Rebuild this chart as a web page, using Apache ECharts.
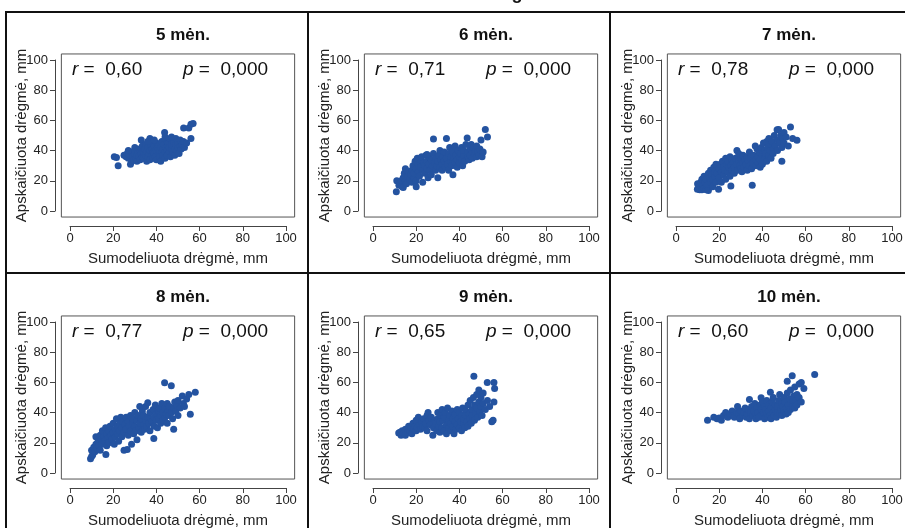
<!DOCTYPE html>
<html>
<head>
<meta charset="utf-8">
<script src="https://cdn.jsdelivr.net/npm/echarts@6/dist/echarts.min.js"></script>
<style>
  html, body { margin: 0; padding: 0; background: #fff; }
  #chart { width: 905px; height: 528px; }
</style>
</head>
<body>
<div id="chart"></div>
<script>
const titles = ["5 mėn.", "6 mėn.", "7 mėn.", "8 mėn.", "9 mėn.", "10 mėn."];
const rValues = ["0,60", "0,71", "0,78", "0,77", "0,65", "0,60"];
const pValues = ["0,000", "0,000", "0,000", "0,000", "0,000", "0,000"];
const xTitle = "Sumodeliuota drėgmė, mm";
const yTitle = "Apskaičiuota drėgmė, mm";

// [sumodeliuota, apskaičiuota]
const m5 = [[20.5,36],[21.5,35.5],[22.3,30],[25,37],[26,36],[26.5,38],[27,35],[27.5,37.5],[28,31],[28.5,33],[28.5,39],[29,36],[29.5,34],[30,38],[30,40],[30.5,35],[31,37],[31,33],[31.5,39],[32,36],[32,41],[32.5,34],[33,38],[33,47],[33.5,43],[33.5,36],[34,39],[34,35],[34.5,41],[35,37],[35,44],[35.5,33],[35.5,39],[36,42],[36,36],[36.5,38],[37,48],[37,34],[37,40],[37.5,44],[38,37],[38,41],[38.5,39],[38.5,35],[39,43],[39,38],[39.5,36],[40,40],[40,45],[40,34],[40.5,42],[41,38],[41,44],[41.5,36],[41.5,40],[42,42],[42,33],[42.5,46],[42.5,39],[43,37],[43,41],[43.5,44],[43.8,52],[44,39],[44,35],[44.5,42],[44.5,47],[45,40],[45,37],[45.5,43],[45.5,45],[46,39],[46,42],[46.5,36],[46.5,48],[47,41],[47,44],[47.5,39],[48,43],[48,46],[48.5,37],[48.5,41],[49,44],[49,48],[49.5,40],[50,42],[50,45],[50.5,38],[51,43],[51,47],[51.5,41],[52,44],[52.5,46],[52.6,55],[53,42],[54,45],[55,55],[56,48],[56,57.5],[57,58],[36,46],[39,47],[44,49],[47,49],[30,42],[27,40]];
const m6 = [[10.8,12.7],[11,20],[12,17],[12.5,19],[13,20],[13.5,16],[14,15.5],[14,22],[14.5,25],[15,28],[15,20],[15.5,18],[16,23],[16.5,26],[17,21],[17.5,24],[18,19],[18,27],[18.5,30],[19,22],[19,25],[19.5,33],[20,28],[20,20],[20.5,35],[21,26],[21,31],[21.5,23],[22,29],[22,34],[22.5,36],[23,19],[23,27],[23.5,32],[24,25],[24,30],[24.5,37],[25,28],[25,33],[25.5,22],[26,31],[26,36],[26.5,27],[27,34],[27,24],[27.5,30],[28,47.7],[28,38],[28.5,32],[29,27],[29,35],[29.5,30],[30,22],[30,33],[30.5,37],[31,29],[31,40],[31.5,34],[32,31],[32,27],[32.5,36],[33,33],[33,39],[33.5,29],[34,48],[34,35],[34.5,31],[35,38],[35,27],[35.5,42],[36,33],[36,36],[36.5,30],[37,24],[37,39],[37.5,35],[38,32],[38,43],[38.5,37],[39,34],[39,29],[39.5,40],[40,36],[40,32],[40.5,38],[41,42],[41,34],[41.5,30],[42,37],[42,40],[42.5,33],[43,44],[43.6,48.4],[44,36],[44,39],[44.5,34],[45,41],[45,37],[45.5,44],[46,35],[46,39],[46.5,42],[47,38],[47.5,40],[48,36],[48,43],[48.5,39],[49,37],[49.5,41],[50,47],[50.5,36],[51,39],[52,54],[53,49],[20,16],[25,37.5]];
const m7 = [[9.9,14.4],[10,18],[10.5,16],[11,14],[11.5,19],[12,14],[12,21],[12.5,17],[13,15],[13,23],[13.5,19],[14,14],[14,21],[14.5,17],[15,13.5],[15,25],[15.5,22],[16,19],[16,27],[16.5,24],[17,21],[17,16],[17.5,29],[18,23],[18,26],[18.5,19],[18.5,31],[19,25],[19.7,14.4],[20,28],[20,22],[20.5,31],[21,26],[21,19],[21.5,33],[22,24],[22,29],[22.5,27],[23,35],[23,21],[23.5,31],[24,26],[24,33],[24.5,29],[25,23],[25,36],[25.4,16.6],[25.5,30],[26,27],[26,34],[26.5,32],[27,25],[27,29],[27.5,35],[28,31],[28.2,40],[28.5,27],[29,33],[29,38],[29.5,30],[30,28],[30,35],[30.5,26],[31,32],[31,37],[31.5,29],[32,34],[32.5,31],[33,27],[33,36],[33.5,33],[34,30],[34,39],[34.5,35],[35,28],[35.3,17],[35.5,32],[36,37],[36.7,43],[37,30],[37,34],[37.5,41],[38,32],[38,36],[38.5,39],[39,29],[39,34],[39.5,42],[40,37],[40,31],[40.5,45],[41,35],[41,40],[41.5,38],[42,46],[42,33],[42.5,42],[43,48],[43,37],[43.5,40],[44,44],[44,35],[44.5,46],[45,41],[45,38],[45.5,50],[46,43],[46.8,53.8],[47,47],[47,40],[47.5,54],[48,45],[48.5,50],[49,33],[49,42],[49.5,48],[50,52],[50,45],[51,49],[52,43],[53,55.6],[54,48],[56,46.8]];
const m8 = [[9.5,9.5],[10,11],[10.5,12],[10,15],[11,17],[11.5,14],[12,19],[12,24],[12.5,16],[13,21],[13.5,18],[14,25],[14,15],[14.5,22],[15,19],[15,28],[15.5,24],[16,21],[16.6,12.2],[16.5,30],[17,26],[17,18],[17.5,23],[18,28],[18,20],[18.5,31],[19,25],[19.5,22],[20,27],[20,33],[20.5,19],[21,29],[21,24],[21.5,36],[22,31],[22,26],[22.5,21],[23,33],[23,28],[23.5,37],[24,30],[24,24],[24.5,34],[25,15],[25,27],[25.5,32],[26,29],[26,37],[26.5,15.5],[27,34],[27,25],[27.5,31],[28,28],[28,38],[28.5,19],[29,33],[29,36],[29.5,26],[30,31],[30,40],[30.5,28],[31,35],[31,22],[31.5,38],[32,30],[32.3,44],[32.5,33],[33,27],[33,36],[33.5,41],[34,32],[34,38],[34.5,29],[35,35],[35,44],[35.5,31],[36,46.5],[36,37],[36.5,33],[37,40],[37,28],[37.5,36],[38,34],[38.8,22.8],[38.5,42],[39,37],[39,31],[39.5,45],[40,35],[40,39],[40.5,30],[41,41],[41,36],[41.5,43],[42,33],[42,38],[42.5,46],[43,40],[43,35],[43.8,59.7],[44,37],[44,43],[44.5,39],[45,33],[45,46],[45.5,41],[46,38],[46,44],[46.9,57.7],[47,40],[47.5,36],[48,29],[48,43],[48.5,47],[49,41],[49.5,45],[50,38],[50,48],[51,43],[52,51],[52.5,46],[53,44],[54,49],[55,52],[55.7,38.9],[58,53.5]];
const m9 = [[11.9,26.5],[12.5,27],[13,25],[13.5,28],[14,26],[15,25],[15,29],[16,27],[16.5,31],[17,28],[17.5,30],[18,26],[18.5,33],[19,29],[19.5,31],[20,28],[20,35],[20.5,30],[21,37],[21.5,32],[22,29],[22.5,34],[23,31],[23.5,36],[24,30],[24.5,33],[25,38],[25,28],[25.5,40],[26,35],[26.5,32],[27,37],[27.7,25],[28,30],[28.5,35],[29,33],[29.5,28],[30,36],[30,40],[30.5,31],[31,34],[31,27],[31.5,38],[32,30],[32,42],[32.5,35],[33,28],[33,37],[33.5,40],[34,32],[34,26],[34.5,43],[35,35],[35,30],[35.5,38],[36,33],[36,28],[36.5,41],[37,36],[37,31],[37.5,26],[38,34],[38,39],[38.5,29],[39,42],[39,32],[39.5,36],[40,30],[40,40],[40.5,34],[41,38],[41,28],[41.5,43],[42,33],[42,36],[42.5,30],[43,41],[43,38],[43.5,34],[44,45],[44,31],[44.5,39],[45,36],[45,48],[45.5,33],[46,42],[46,38],[46.7,64],[46.5,50],[47,45],[47,35],[47.5,40],[48,52],[48,43],[48.5,37],[49,55],[49,47],[49.5,41],[50,50],[50,44],[50.5,38],[51,53],[51,46],[52,42],[52.9,60],[53,48],[54,44],[55,34],[55.6,35],[56,47],[56.3,56],[56,60]];
const m10 = [[14.6,35],[17.5,37],[19,36],[20,36.5],[21,35],[22,38],[23,40],[24,37],[25,39],[26,41],[26.5,38],[27,37],[28,40],[28.5,44],[29,39],[29.5,36],[30,41],[31,38],[31.5,40],[32,43],[32.5,37],[33,39],[33.5,42],[34,48.7],[34,36],[34.5,40],[35,44],[35.5,38],[36,41],[36.5,46],[37,39],[37,36],[37.5,43],[38,40],[38.5,37],[39,45],[39.4,49.8],[39.5,42],[40,38],[40,47],[40.5,40],[41,36],[41,44],[41.5,42],[42,39],[42,48],[42.5,37],[43,41],[43,45],[43.7,53.5],[43.5,38],[44,43],[44,36],[44.5,47],[45,40],[45,50],[45.5,38],[46,42],[46,45],[46.5,37],[47,44],[47,40],[47.5,48],[48,39],[48,52],[48.5,42],[49,46],[49,38],[49.5,44],[50,41],[50,50],[50.5,47],[51,39],[51,43],[51.5,60.8],[51.5,53],[52,45],[52,40],[52.5,49],[53,42],[53,55],[53.8,64.4],[54,47],[54,44],[54.5,51],[55,43],[55,57],[55.5,48],[56,45],[56,52],[57,59],[57,50],[58,60],[58,47],[59.2,56],[64.2,65.3]];
const panelData = [m5, m6, m7, m8, m9, m10];

const FONT = "Liberation Sans, Arial, sans-serif";
const colX0 = [70, 373, 676];     // pixel of x = 0 in each column
const rowY100 = [60, 322];        // pixel of y = 100 in each row
const xUnit = 2.16, yUnit = 1.51; // px per data unit
const dotColor = "#2453a0";

const chart = echarts.init(document.getElementById("chart"), null, { renderer: "canvas" });

const grid = [], xAxis = [], yAxis = [], series = [], title = [], graphic = [];

panelData.forEach((data, i) => {
  const x0 = colX0[i % 3];
  const top = rowY100[Math.floor(i / 3)];

  // plot box (R style, 4% padding)
  grid.push({
    left: x0 - 4 * xUnit, top: top - 4 * yUnit,
    width: 108 * xUnit, height: 108 * yUnit,
    show: true, borderColor: "#555", borderWidth: 1,
    backgroundColor: "transparent", outerBoundsMode: "none",
  });
  // axes, detached from the box
  grid.push({
    left: x0, top: top, width: 100 * xUnit, height: 100 * yUnit,
    show: false, outerBoundsMode: "none",
  });

  xAxis.push({ gridIndex: 2 * i, type: "value", min: -4, max: 104, show: false });
  yAxis.push({ gridIndex: 2 * i, type: "value", min: -4, max: 104, show: false });

  xAxis.push({
    gridIndex: 2 * i + 1, type: "value", min: 0, max: 100, interval: 20,
    position: "bottom", offset: 15,
    axisLine: { show: true, onZero: false, lineStyle: { color: "#444", width: 1 } },
    axisTick: { show: true, length: 5, lineStyle: { color: "#444" } },
    axisLabel: { margin: 6, fontSize: 13, color: "#222", fontFamily: FONT },
    splitLine: { show: false },
    name: xTitle, nameLocation: "middle", nameGap: 25, nameMoveOverlap: false,
    nameTextStyle: { fontSize: 15, color: "#222", fontFamily: FONT },
  });
  yAxis.push({
    gridIndex: 2 * i + 1, type: "value", min: 0, max: 100, interval: 20,
    position: "left", offset: 15,
    axisLine: { show: true, onZero: false, lineStyle: { color: "#444", width: 1 } },
    axisTick: { show: true, length: 5, lineStyle: { color: "#444" } },
    axisLabel: { margin: 7, fontSize: 13, color: "#222", fontFamily: FONT },
    splitLine: { show: false },
    name: yTitle, nameLocation: "middle", nameGap: 26, nameMoveOverlap: false,
    nameTextStyle: { fontSize: 15, color: "#222", fontFamily: FONT },
  });

  series.push({
    type: "scatter", xAxisIndex: 2 * i, yAxisIndex: 2 * i,
    symbolSize: 7, itemStyle: { color: dotColor, opacity: 1 },
    silent: true, animation: false, data: data,
  });

  title.push({
    text: titles[i], left: x0 + 108, top: top - 38, textAlign: "center",
    textStyle: { fontSize: 17, fontWeight: "bold", color: "#111", fontFamily: FONT },
  });

  const rich = {
    i: { fontStyle: "italic", fontSize: 19, fontFamily: FONT, fill: "#111" },
    t: { fontSize: 19, fontFamily: FONT, fill: "#111" },
  };
  graphic.push({
    type: "text", x: x0 + 2, y: top + 10,
    style: { text: "{i|r}{t| =  " + rValues[i] + "}", rich: rich, verticalAlign: "middle" },
  });
  graphic.push({
    type: "text", x: x0 + 113, y: top + 10,
    style: { text: "{i|p}{t| =  " + pValues[i] + "}", rich: rich, verticalAlign: "middle" },
  });
});

// panel frames
const frame = { stroke: "#111", lineWidth: 2, fill: null };
graphic.push({ type: "rect", shape: { x: 6, y: 12, width: 910, height: 530 }, style: frame });
graphic.push({ type: "line", shape: { x1: 308, y1: 12, x2: 308, y2: 530 }, style: frame });
graphic.push({ type: "line", shape: { x1: 610, y1: 12, x2: 610, y2: 530 }, style: frame });
graphic.push({ type: "line", shape: { x1: 6, y1: 273, x2: 910, y2: 273 }, style: frame });
// tail of the cut-off heading above
graphic.push({
  type: "text", x: 517, y: -15,
  style: { text: "g", fontSize: 18, fontWeight: "bold", fontFamily: FONT, fill: "#111", align: "center" },
});

chart.setOption({
  animation: false,
  backgroundColor: "#fff",
  title: title,
  grid: grid,
  xAxis: xAxis,
  yAxis: yAxis,
  series: series,
  graphic: graphic,
});
</script>
</body>
</html>
